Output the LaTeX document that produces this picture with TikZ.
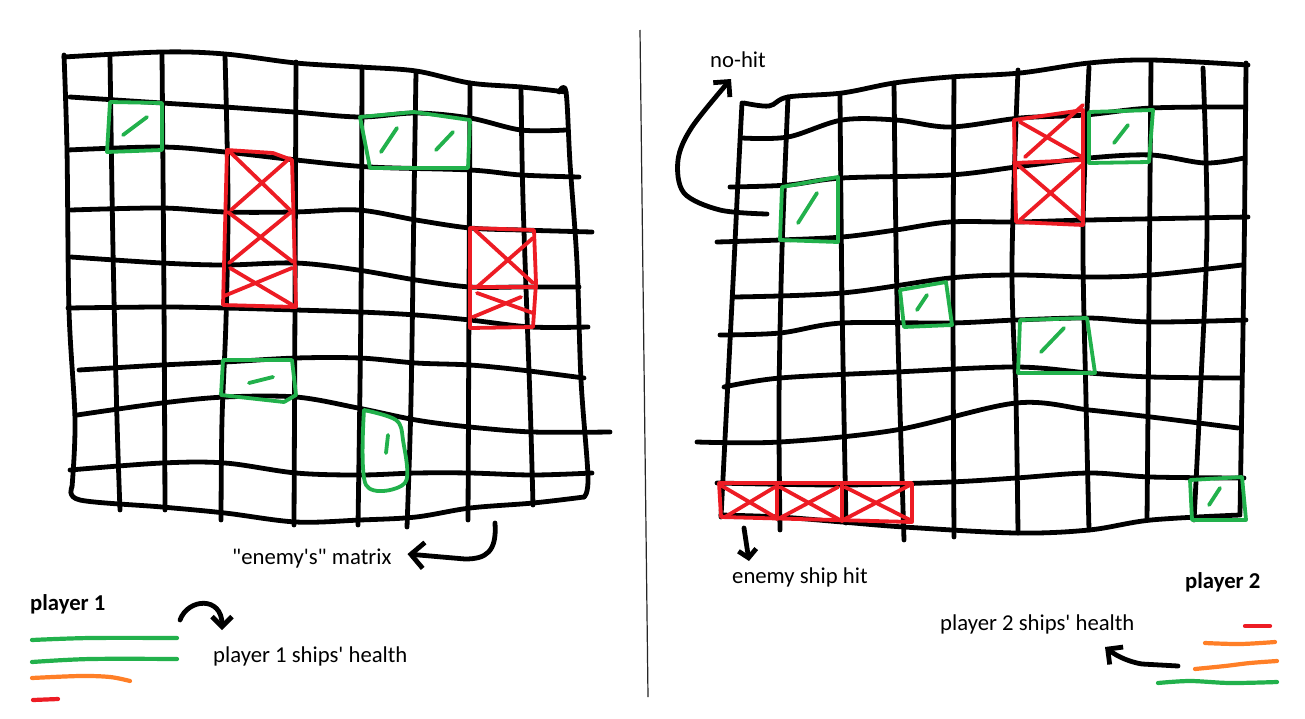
\documentclass[tikz,border=0pt]{standalone}
\usepackage{fontspec}
\setmainfont{Carlito}[Ligatures=TeXOff]
\usetikzlibrary{arrows.meta}
\definecolor{pgreen}{RGB}{34,177,76}
\definecolor{pred}{RGB}{237,28,36}
\definecolor{porange}{RGB}{255,127,39}
\begin{document}
\begin{tikzpicture}[x=1pt,y=-1pt,
  blk/.style={line width=4.8pt,line cap=round,line join=round,black},
  grn/.style={line width=3.8pt,line cap=round,line join=round,pgreen},
  rd/.style={line width=3.8pt,line cap=round,line join=round,pred},
  org/.style={line width=3.8pt,line cap=round,line join=round,porange},
  lbl/.style={inner sep=0pt,anchor=base west,font=\fontsize{22.7}{26}\selectfont},
  blbl/.style={lbl,font=\fontsize{22.7}{26}\selectfont\bfseries},
  barb/.style={-{Straight Barb[length=13pt,width=26pt]}},
  sm/.style={smooth,tension=0.55}]
\useasboundingbox[fill=white] (0,0) rectangle (1305,718);

% ---------------- left grid: horizontal lines
\draw[blk] plot[sm] coordinates {(64,57) (162,52) (225,54) (296,63) (360,67) (416,71) (470,83) (521,87) (566,92)};
\draw[blk] plot[sm] coordinates {(70,97) (162,103) (225,107) (294,112) (360,117) (416,113) (470,118) (521,130) (566,130)};
\draw[blk] plot[sm] coordinates {(68,150) (162,147) (225,152) (296,160) (370,167) (470,170) (521,175) (579,177)};
\draw[blk] plot[sm] coordinates {(71,210) (162,208) (225,212) (294,212) (358,210) (416,220) (470,228) (521,230) (592,232)};
\draw[blk] plot[sm] coordinates {(71,257) (162,263) (225,265) (296,263) (358,270) (416,280) (470,287) (521,287) (579,287)};
\draw[blk] plot[sm] coordinates {(68,308) (162,307) (225,308) (296,310) (360,312) (416,315) (470,320) (531,327) (588,327)};
\draw[blk] plot[sm] coordinates {(79,370) (162,365) (225,362) (296,358) (360,358) (416,363) (470,365) (521,370) (584,378)};
\draw[blk] plot[sm] coordinates {(77,415) (162,403) (225,397) (296,397) (358,408) (416,420) (470,427) (533,432) (610,432)};
\draw[blk] plot[sm] coordinates {(70,470) (162,463) (225,463) (296,473) (360,475) (416,473) (470,473) (533,475) (592,473)};
\draw[blk] plot[sm] coordinates {(72,487) (80,500) (162,507) (225,513) (296,522) (360,520) (416,517) (470,508) (533,503) (584,497)};
% left grid: vertical lines
\draw[blk] plot[sm] coordinates {(64,55) (67,150) (69,310) (75,420) (72,487)};
\draw[blk] plot[sm] coordinates {(110,57) (113,250) (117,420) (120,510)};
\draw[blk] plot[sm] coordinates {(162,53) (164,300) (165,510)};
\draw[blk] plot[sm] coordinates {(225,55) (228,200) (226,320) (222,420) (221,520)};
\draw[blk] plot[sm] coordinates {(296,62) (295,300) (294,525)};
\draw[blk] plot[sm] coordinates {(362,67) (361,300) (358,525)};
\draw[blk] plot[sm] coordinates {(416,72) (414,200) (411,400) (407,527)};
\draw[blk] plot[sm] coordinates {(470,83) (469,300) (468,520)};
\draw[blk] plot[sm] coordinates {(521,87) (523,200) (530,400) (533,505)};
\draw[blk] plot[sm] coordinates {(559,92) (566,92) (570,163) (577,263) (581,380) (588,477) (584,497)};

% left grid: green cells
\draw[grn] (110,102) -- (162,103) -- (162,150) -- (107,152) -- cycle;
\draw[grn] (123,135) -- (147,117);
\draw[grn] (360,117) -- (414,112) -- (470,120) -- (468,168) -- (370,168) -- cycle;
\draw[grn] (381,152) -- (397,128);
\draw[grn] (436,150) -- (453,132);
\draw[grn] (223,360) -- (292,360) -- (296,395) -- (284,402) -- (221,395) -- cycle;
\draw[grn] (249,383) -- (273,377);
\draw[grn] plot[sm] coordinates {(364,410) (396,420) (403,440) (405,483) (366,485) (364,410)};
\draw[grn] (386,453) -- (388,435);
% left grid: red cells
\draw[rd] (227,150) -- (273,153) -- (292,160) -- (296,307) -- (223,305) -- cycle;
\draw[rd] (230,152) -- (290,210);
\draw[rd] (231,210) -- (290,158);
\draw[rd] (228,212) -- (293,262);
\draw[rd] (229,263) -- (291,212);
\draw[rd] (224,296) -- (292,268);
\draw[rd] (230,268) -- (294,306);
\draw[rd] (470,228) -- (534,230) -- (536,283) -- (533,327) -- (470,328) -- cycle;
\draw[rd] (470,287) -- (536,287);
\draw[rd] (475,230) -- (533,283);
\draw[rd] (477,287) -- (533,238);
\draw[rd] (473,317) -- (521,297);
\draw[rd] (477,293) -- (533,313);

% ---------------- right grid: horizontal lines
\draw[blk] plot[sm] coordinates {(744,103) (769,106) (788,97) (842,93) (894,83) (950,77) (1020,73) (1089,63) (1151,60) (1248,65)};
\draw[blk] plot[sm] coordinates {(742,138) (788,137) (842,120) (896,120) (950,127) (1020,118) (1085,115) (1151,108) (1244,107)};
\draw[blk] plot[sm] coordinates {(730,187) (788,185) (842,178) (950,175) (1016,167) (1089,158) (1151,155) (1205,163) (1244,158)};
\draw[blk] plot[sm] coordinates {(717,242) (780,240) (842,237) (896,230) (950,222) (1016,222) (1089,220) (1248,217)};
\draw[blk] plot[sm] coordinates {(734,297) (842,293) (950,278) (1016,275) (1089,277) (1151,275) (1242,265)};
\draw[blk] plot[sm] coordinates {(720,335) (780,333) (842,323) (950,323) (1016,320) (1089,318) (1151,322) (1246,320)};
\draw[blk] plot[sm] coordinates {(724,387) (780,378) (896,372) (1016,367) (1089,373) (1151,377) (1240,378)};
\draw[blk] plot[sm] coordinates {(697,442) (780,442) (896,430) (1016,403) (1089,410) (1151,417) (1238,428)};
\draw[blk] plot[sm] coordinates {(717,483) (842,485) (950,482) (1016,478) (1089,473) (1151,477) (1244,478)};
\draw[blk] plot[sm] coordinates {(721,515) (780,517) (842,522) (904,527) (1016,533) (1089,530) (1151,520) (1240,515)};
% right grid: vertical lines
\draw[blk] plot[sm] coordinates {(742,103) (738,180) (734,263) (727,400) (721,517)};
\draw[blk] plot[sm] coordinates {(788,97) (782,250) (779,400) (780,530)};
\draw[blk] plot[sm] coordinates {(840,95) (842,300) (846,523)};
\draw[blk] plot[sm] coordinates {(894,83) (897,300) (904,540)};
\draw[blk] plot[sm] coordinates {(954,77) (953,300) (954,537)};
\draw[blk] plot[sm] coordinates {(1018,70) (1012,263) (1016,400) (1018,533)};
\draw[blk] plot[sm] coordinates {(1089,67) (1083,230) (1086,400) (1089,530)};
\draw[blk] plot[sm] coordinates {(1151,62) (1149,300) (1147,520)};
\draw[blk] plot[sm] coordinates {(1203,68) (1207,230) (1200,400) (1194,520)};
\draw[blk] plot[sm] coordinates {(1246,63) (1244,263) (1240,513)};

% right grid: green cells
\draw[grn] (1089,112) -- (1153,110) -- (1149,162) -- (1089,163) -- cycle;
\draw[grn] (1114,143) -- (1128,125);
\draw[grn] (782,187) -- (838,177) -- (838,242) -- (780,240) -- cycle;
\draw[grn] (798,223) -- (817,193);
\draw[grn] (900,290) -- (946,282) -- (952,325) -- (904,327) -- cycle;
\draw[grn] (917,310) -- (927,295);
\draw[grn] (1020,320) -- (1087,318) -- (1095,373) -- (1018,373) -- cycle;
\draw[grn] (1041,352) -- (1064,328);
\draw[grn] (1190,480) -- (1242,477) -- (1246,520) -- (1192,520) -- cycle;
\draw[grn] (1209,505) -- (1220,488);
% right grid: red cells
\draw[rd] (1014,120) -- (1083,110) -- (1083,225) -- (1016,222) -- cycle;
\draw[rd] (1014,163) -- (1083,160);
\draw[rd] (1020,122) -- (1082,157);
\draw[rd] (1025,157) -- (1083,105);
\draw[rd] (1018,165) -- (1082,220);
\draw[rd] (1020,220) -- (1082,165);
\draw[rd] (719,483) -- (912,483) -- (912,522) -- (721,517) -- cycle;
\draw[rd] (777,484) -- (777,519);
\draw[rd] (842,484) -- (842,521);
\draw[rd] (722,486) -- (775,517);
\draw[rd] (725,517) -- (775,487);
\draw[rd] (780,487) -- (840,520);
\draw[rd] (780,518) -- (838,487);
\draw[rd] (845,487) -- (910,520);
\draw[rd] (845,519) -- (910,485);

% ---------------- divider
\draw[line width=1.2pt,black!85] (640,30) -- (648,697);

% ---------------- labels
\node[lbl]  (mat)  at (232,564) {"enemy's" matrix};
\node[blbl] (pl1)  at (30,610)  {player 1};
\node[lbl]  (hp1)  at (213,662) {player 1 ships' health};
\node[blbl] (pl2)  at (1185,588) {player 2};
\node[lbl]  (hp2)  at (940,630) {player 2 ships' health};
\node[lbl]  (nohit) at (710,67) {no-hit};
\node[lbl]  (hit)  at (732,583) {enemy ship hit};

% ---------------- arrows
\coordinate (matS) at (495,523);
\coordinate (matE) at ([xshift=16pt,yshift=4pt]mat.east);
\draw[blk,barb] (matS) .. controls (497,552) and (486,559) .. (465,559) -- (matE);

\coordinate (p1S) at (180,620);
\coordinate (p1E) at (222,630);
\draw[blk,-{Straight Barb[length=10pt,width=20pt]}] (p1S) .. controls (188,598) and (222,596) .. (p1E);

\coordinate (p2S) at (1178,666);
\coordinate (p2E) at (1105,647);
\draw[blk,-{Straight Barb[length=11pt,width=22pt]}] (p2S) -- (1142,664) .. controls (1130,662) and (1118,657) .. (p2E);

\coordinate (nhS) at (767,214);
\draw[blk,-{Straight Barb[length=11pt,width=22pt]}] plot[sm] coordinates {(nhS) (720,210) (684,193) (678,160) (692,127) (731,79)};

\coordinate (hitS) at (744,528);
\coordinate (hitE) at (749,561);
\draw[blk,-{Straight Barb[length=8pt,width=18pt]}] (hitS) -- (hitE);

% ---------------- health bars
\draw[grn,line width=4.2pt] plot[sm] coordinates {(32,640) (90,638) (177,638)};
\draw[grn,line width=4.2pt] plot[sm] coordinates {(32,662) (90,659) (177,659)};
\draw[org,line width=4.2pt] plot[sm] coordinates {(32,678) (80,676) (110,677) (130,681)};
\draw[rd,line width=4.2pt] (33,700) -- (58,699);

\draw[rd,line width=4.2pt] (1245,626) -- (1270,626);
\draw[org,line width=4.2pt] plot[sm] coordinates {(1205,643) (1240,644) (1275,642)};
\draw[org,line width=4.2pt] plot[sm] coordinates {(1195,669) (1225,666) (1250,663) (1277,661)};
\draw[grn,line width=4.2pt] plot[sm] coordinates {(1158,683) (1190,681) (1230,683) (1277,682)};
\end{tikzpicture}
\end{document}
